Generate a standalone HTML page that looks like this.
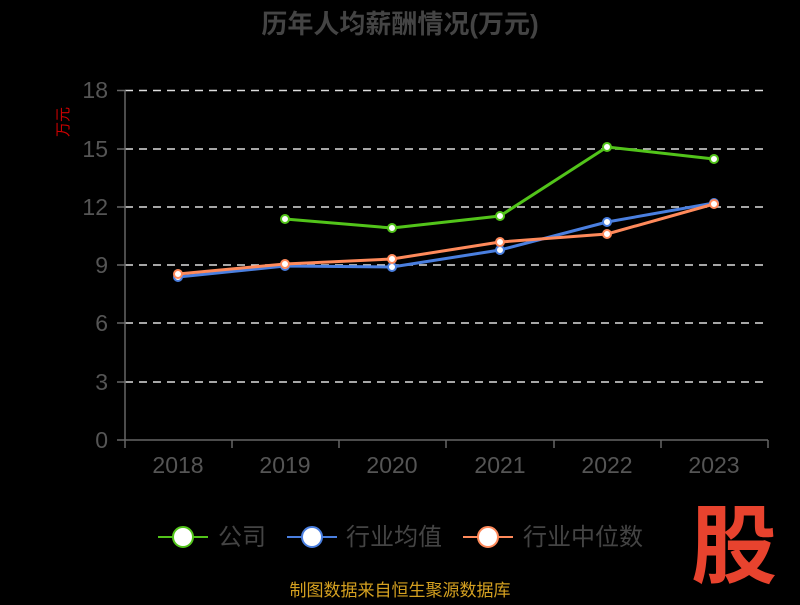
<!DOCTYPE html>
<html><head><meta charset="utf-8"><style>
html,body{margin:0;padding:0;background:#000;}
body{width:800px;height:600px;overflow:hidden;font-family:"Liberation Sans","Noto Sans CJK SC",sans-serif;}
</style></head><body>
<svg width="800" height="600" xmlns="http://www.w3.org/2000/svg" font-family="Liberation Sans, Noto Sans CJK SC, sans-serif">
<rect width="800" height="600" fill="#000"/>
<text x="400" y="33" text-anchor="middle" font-size="26" font-weight="bold" fill="#444">历年人均薪酬情况(万元)</text>
<text x="68" y="122" font-size="15" fill="#c00" transform="rotate(-90 68 122)" text-anchor="middle">万元</text>
<g stroke="#ddd" stroke-width="1.5" stroke-dasharray="8,6">
<line x1="125" x2="768" y1="90.5" y2="90.5"/>
<line x1="125" x2="768" y1="149" y2="149"/>
<line x1="125" x2="768" y1="207" y2="207"/>
<line x1="125" x2="768" y1="265" y2="265"/>
<line x1="125" x2="768" y1="323" y2="323"/>
<line x1="125" x2="768" y1="382" y2="382"/>
</g>
<g stroke="#666" stroke-width="1.5">
<line x1="125" x2="125" y1="90" y2="440"/>
<line x1="125" x2="768" y1="440" y2="440"/>
<line x1="117" x2="125" y1="90.5" y2="90.5"/><line x1="117" x2="125" y1="149" y2="149"/><line x1="117" x2="125" y1="207" y2="207"/><line x1="117" x2="125" y1="265" y2="265"/><line x1="117" x2="125" y1="323" y2="323"/><line x1="117" x2="125" y1="382" y2="382"/><line x1="117" x2="125" y1="440" y2="440"/>
<line x1="125" x2="125" y1="440" y2="448"/><line x1="232" x2="232" y1="440" y2="448"/><line x1="339" x2="339" y1="440" y2="448"/><line x1="446" x2="446" y1="440" y2="448"/><line x1="554" x2="554" y1="440" y2="448"/><line x1="661" x2="661" y1="440" y2="448"/><line x1="768" x2="768" y1="440" y2="448"/>
</g>
<g font-size="23" fill="#555" text-anchor="end">
<text x="108" y="98">18</text><text x="108" y="157">15</text><text x="108" y="215">12</text><text x="108" y="273">9</text><text x="108" y="331">6</text><text x="108" y="390">3</text><text x="108" y="448">0</text>
</g>
<g font-size="23" fill="#555" text-anchor="middle">
<text x="178" y="473">2018</text><text x="285" y="473">2019</text><text x="392" y="473">2020</text><text x="500" y="473">2021</text><text x="607" y="473">2022</text><text x="714" y="473">2023</text>
</g>
<g fill="none" stroke-width="3" stroke-linejoin="round">
<polyline stroke="#4a7fe0" points="178,277 285,266 392,267 500,250 607,222 714,203"/>
<polyline stroke="#ff8a5b" points="178,274 285,264 392,259 500,242 607,234 714,204"/>
<polyline stroke="#52c41a" points="285,219 392,228 500,216 607,147 714,159"/>
</g>
<g fill="#fff" stroke-width="2">
<g stroke="#4a7fe0"><circle cx="178" cy="277" r="4"/><circle cx="285" cy="266" r="4"/><circle cx="392" cy="267" r="4"/><circle cx="500" cy="250" r="4"/><circle cx="607" cy="222" r="4"/><circle cx="714" cy="203" r="4"/></g>
<g stroke="#ff8a5b"><circle cx="178" cy="274" r="4"/><circle cx="285" cy="264" r="4"/><circle cx="392" cy="259" r="4"/><circle cx="500" cy="242" r="4"/><circle cx="607" cy="234" r="4"/><circle cx="714" cy="204" r="4"/></g>
<g stroke="#52c41a"><circle cx="285" cy="219" r="4"/><circle cx="392" cy="228" r="4"/><circle cx="500" cy="216" r="4"/><circle cx="607" cy="147" r="4"/><circle cx="714" cy="159" r="4"/></g>
</g>
<g font-size="24" fill="#444">
<line x1="158" x2="208" y1="537" y2="537" stroke="#52c41a" stroke-width="2"/><circle cx="183" cy="537" r="10" fill="#fff" stroke="#52c41a" stroke-width="2"/><text x="218" y="545">公司</text>
<line x1="287" x2="337" y1="537" y2="537" stroke="#4a7fe0" stroke-width="2"/><circle cx="312" cy="537" r="10" fill="#fff" stroke="#4a7fe0" stroke-width="2"/><text x="346" y="545">行业均值</text>
<line x1="463" x2="513" y1="537" y2="537" stroke="#ff8a5b" stroke-width="2"/><circle cx="488" cy="537" r="10" fill="#fff" stroke="#ff8a5b" stroke-width="2"/><text x="523" y="545">行业中位数</text>
</g>
<text x="734" y="576" text-anchor="middle" font-size="86" font-weight="bold" fill="#e8432e">股</text>
<text x="400" y="596" text-anchor="middle" font-size="17" fill="#d4a020">制图数据来自恒生聚源数据库</text>
</svg>
</body></html>
